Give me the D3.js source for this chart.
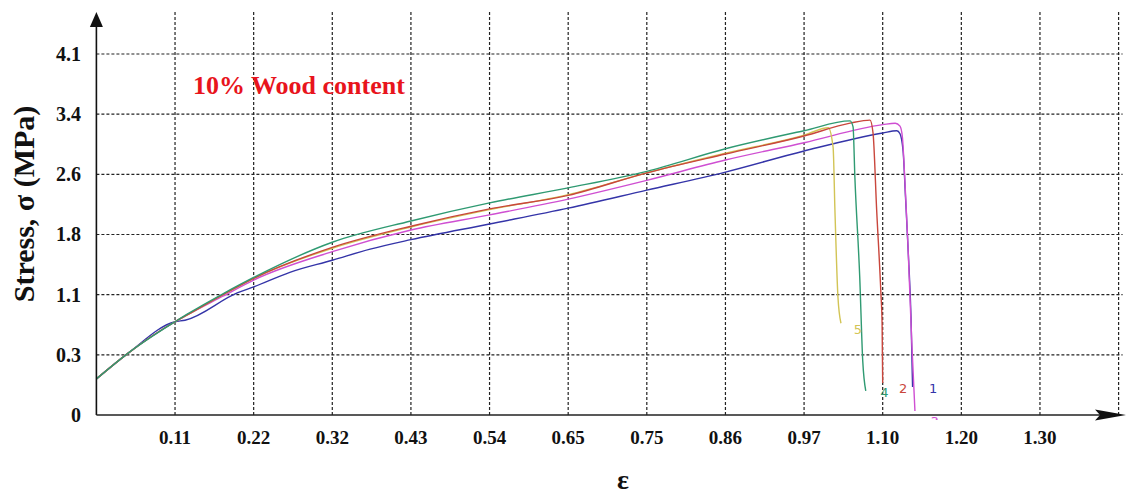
<!doctype html><html><head></head><body style="margin:0;background:#fff"><script src='https://d3js.org/d3.v7.min.js'></script>

<style>
	svg text {
		font-family: "Liberation Serif", "Times New Roman", serif;
		font-weight: bold;
		fill: #111;
	}
	.grid line {
		stroke: #222;
		stroke-width: 1.2;
		stroke-dasharray: 3,2;
	}
	.curve {
		fill: none;
		stroke-width: 1.4;
	}
	.spec {
		font-family: "DejaVu Sans", sans-serif;
		font-weight: normal;
		font-size: 13px;
	}
</style>

<script>
  // tick labels (they sit on evenly spaced grid lines)
  var xLabels = [0.11, 0.22, 0.32, 0.43, 0.54, 0.65, 0.75, 0.86, 0.97, 1.10, 1.20, 1.30];
  var xLast = 1.40;   // unlabelled last grid line
  var yLabels = [0, 0.3, 1.1, 1.8, 2.6, 3.4, 4.1];

  // strain / stress readings, one array per specimen
  var spec1 = [[0,0.18],[0.044,0.32],[0.11,0.74],[0.124,0.76],[0.197,1.12],[0.22,1.19],[0.266,1.36],[0.32,1.50],[0.373,1.63],[0.43,1.74],[0.54,1.94],[0.65,2.15],[0.75,2.39],[0.86,2.63],[0.97,2.91],[1.10,3.15],[1.118,3.18],[1.122,3.14],[1.126,2.90],[1.129,2.30],[1.133,1.50],[1.136,0.80],[1.138,0.14]];
  var spec3 = [[0,0.18],[0.044,0.32],[0.11,0.74],[0.127,0.83],[0.177,1.08],[0.22,1.27],[0.32,1.60],[0.43,1.86],[0.54,2.06],[0.65,2.27],[0.75,2.52],[0.86,2.79],[0.97,3.02],[1.10,3.26],[1.116,3.28],[1.122,3.24],[1.125,3.10],[1.128,2.56],[1.132,1.70],[1.137,0.46],[1.141,0.02]];
  var spec5 = [[0,0.18],[0.044,0.32],[0.11,0.74],[0.127,0.83],[0.177,1.10],[0.22,1.29],[0.32,1.64],[0.43,1.90],[0.54,2.13],[0.65,2.33],[0.75,2.62],[0.86,2.88],[0.97,3.12],[1.010,3.22],[1.018,2.96],[1.021,2.13],[1.026,1.07],[1.031,0.72]];
  var spec2 = [[0,0.18],[0.044,0.32],[0.11,0.74],[0.127,0.83],[0.177,1.10],[0.22,1.29],[0.32,1.65],[0.43,1.91],[0.54,2.14],[0.65,2.32],[0.75,2.62],[0.86,2.87],[0.97,3.11],[1.046,3.28],[1.079,3.32],[1.084,3.15],[1.090,2.13],[1.097,1.12],[1.099,0.72],[1.100,0.16]];
  var spec4 = [[0,0.18],[0.044,0.32],[0.11,0.74],[0.127,0.84],[0.177,1.11],[0.22,1.30],[0.32,1.71],[0.43,1.98],[0.54,2.22],[0.65,2.42],[0.75,2.64],[0.86,2.94],[0.97,3.18],[1.046,3.31],[1.051,3.23],[1.054,2.56],[1.062,1.31],[1.067,0.27],[1.072,0.12]];

  var specNames = ["1", "3", "5", "2", "4"];
  var specColors = ["#3434a8", "#cf4fd2", "#d2c455", "#c9463c", "#2f9a72"];
  var specData = [spec1, spec3, spec5, spec2, spec4];
  // where the small specimen numbers are written, in data units
  var specLabelPos = [[1.164, 0.13], [1.166, -0.03], [1.059, 0.64], [1.126, 0.13], [1.102, 0.11]];

  var W = 1131, H = 497;
  var x0 = 96.4, stepX = 78.63;
  var y0 = 415, stepY = 60.17;
  var gridTop = 12;

  var svg = d3.select("body").append("svg")
    .attr("width", W)
    .attr("height", H);

  var xDomain = [0].concat(xLabels).concat([xLast]);
  var x = d3.scaleLinear()
    .domain(xDomain)
    .range(xDomain.map(function(d, i) { return x0 + i * stepX; }));
  var y = d3.scaleLinear()
    .domain(yLabels)
    .range(yLabels.map(function(d, i) { return y0 - i * stepY; }));

  // grid
  var grid = svg.append("g").attr("class", "grid");
  grid.selectAll(".v")
    .data(xLabels.concat([xLast]))
    .enter().append("line")
    .attr("x1", function(d) { return x(d); })
    .attr("x2", function(d) { return x(d); })
    .attr("y1", y(0))
    .attr("y2", gridTop);
  grid.selectAll(".h")
    .data(yLabels.slice(1))
    .enter().append("line")
    .attr("x1", x(0))
    .attr("x2", x(xLast) + 4)
    .attr("y1", function(d) { return y(d); })
    .attr("y2", function(d) { return y(d); });

  // curves
  var line = d3.line()
    .curve(d3.curveMonotoneX)
    .x(function(d) { return x(d[0]); })
    .y(function(d) { return y(d[1]); });

  svg.append("clipPath").attr("id", "clip")
    .append("rect")
    .attr("x", 0).attr("y", 0)
    .attr("width", W).attr("height", y(0) + 5);

  svg.selectAll(".curve")
    .data(specData)
    .enter().append("path")
    .attr("class", "curve")
    .attr("d", line)
    .attr("stroke", function(d, i) { return specColors[i]; });

  svg.selectAll(".spec")
    .data(specLabelPos)
    .enter().append("text")
    .attr("class", "spec")
    .attr("clip-path", "url(#clip)")
    .attr("x", function(d) { return x(d[0]); })
    .attr("y", function(d) { return y(d[1]); })
    .attr("dy", "0.35em")
    .attr("text-anchor", "middle")
    .style("fill", function(d, i) { return specColors[i]; })
    .text(function(d, i) { return specNames[i]; });

  // axes with arrows
  svg.append("line")
    .attr("x1", x(0)).attr("x2", x(0))
    .attr("y1", y(0)).attr("y2", 22)
    .attr("stroke", "#111").attr("stroke-width", 1.6);
  svg.append("path")
    .attr("d", "M" + x(0) + ",12 L" + (x(0) - 6.5) + ",27 L" + (x(0) + 6.5) + ",27 Z")
    .attr("fill", "#111");
  svg.append("line")
    .attr("x1", x(0)).attr("x2", 1100)
    .attr("y1", y(0)).attr("y2", y(0))
    .attr("stroke", "#222").attr("stroke-width", 1.6);
  svg.append("path")
    .attr("d", "M1095,409.5 L1126," + y(0) + " L1095,420.5 L1100," + y(0) + " Z")
    .attr("fill", "#111");

  // tick labels
  svg.selectAll(".yl")
    .data(yLabels)
    .enter().append("text")
    .attr("x", 81)
    .attr("y", function(d) { return y(d); })
    .attr("dy", "0.35em")
    .attr("text-anchor", "end")
    .style("font-size", "20px")
    .text(function(d) { return d3.format("")(d); });

  svg.selectAll(".xl")
    .data(xLabels)
    .enter().append("text")
    .attr("x", function(d) { return x(d); })
    .attr("y", 437)
    .attr("dy", "0.35em")
    .attr("text-anchor", "middle")
    .style("font-size", "19px")
    .text(function(d) { return d3.format(".2f")(d); });

  // titles
  svg.append("text")
    .attr("transform", "translate(34,204) rotate(-90)")
    .attr("text-anchor", "middle")
    .style("font-size", "30px")
    .text("Stress, σ (MPa)");

  svg.append("text")
    .attr("x", 623)
    .attr("y", 489)
    .attr("text-anchor", "middle")
    .style("font-size", "28px")
    .text("ε");

  svg.append("text")
    .attr("x", 193)
    .attr("y", 85)
    .attr("dy", "0.35em")
    .style("font-size", "26px")
    .style("fill", "#e8141c")
    .text("10% Wood content");
</script></body></html>
